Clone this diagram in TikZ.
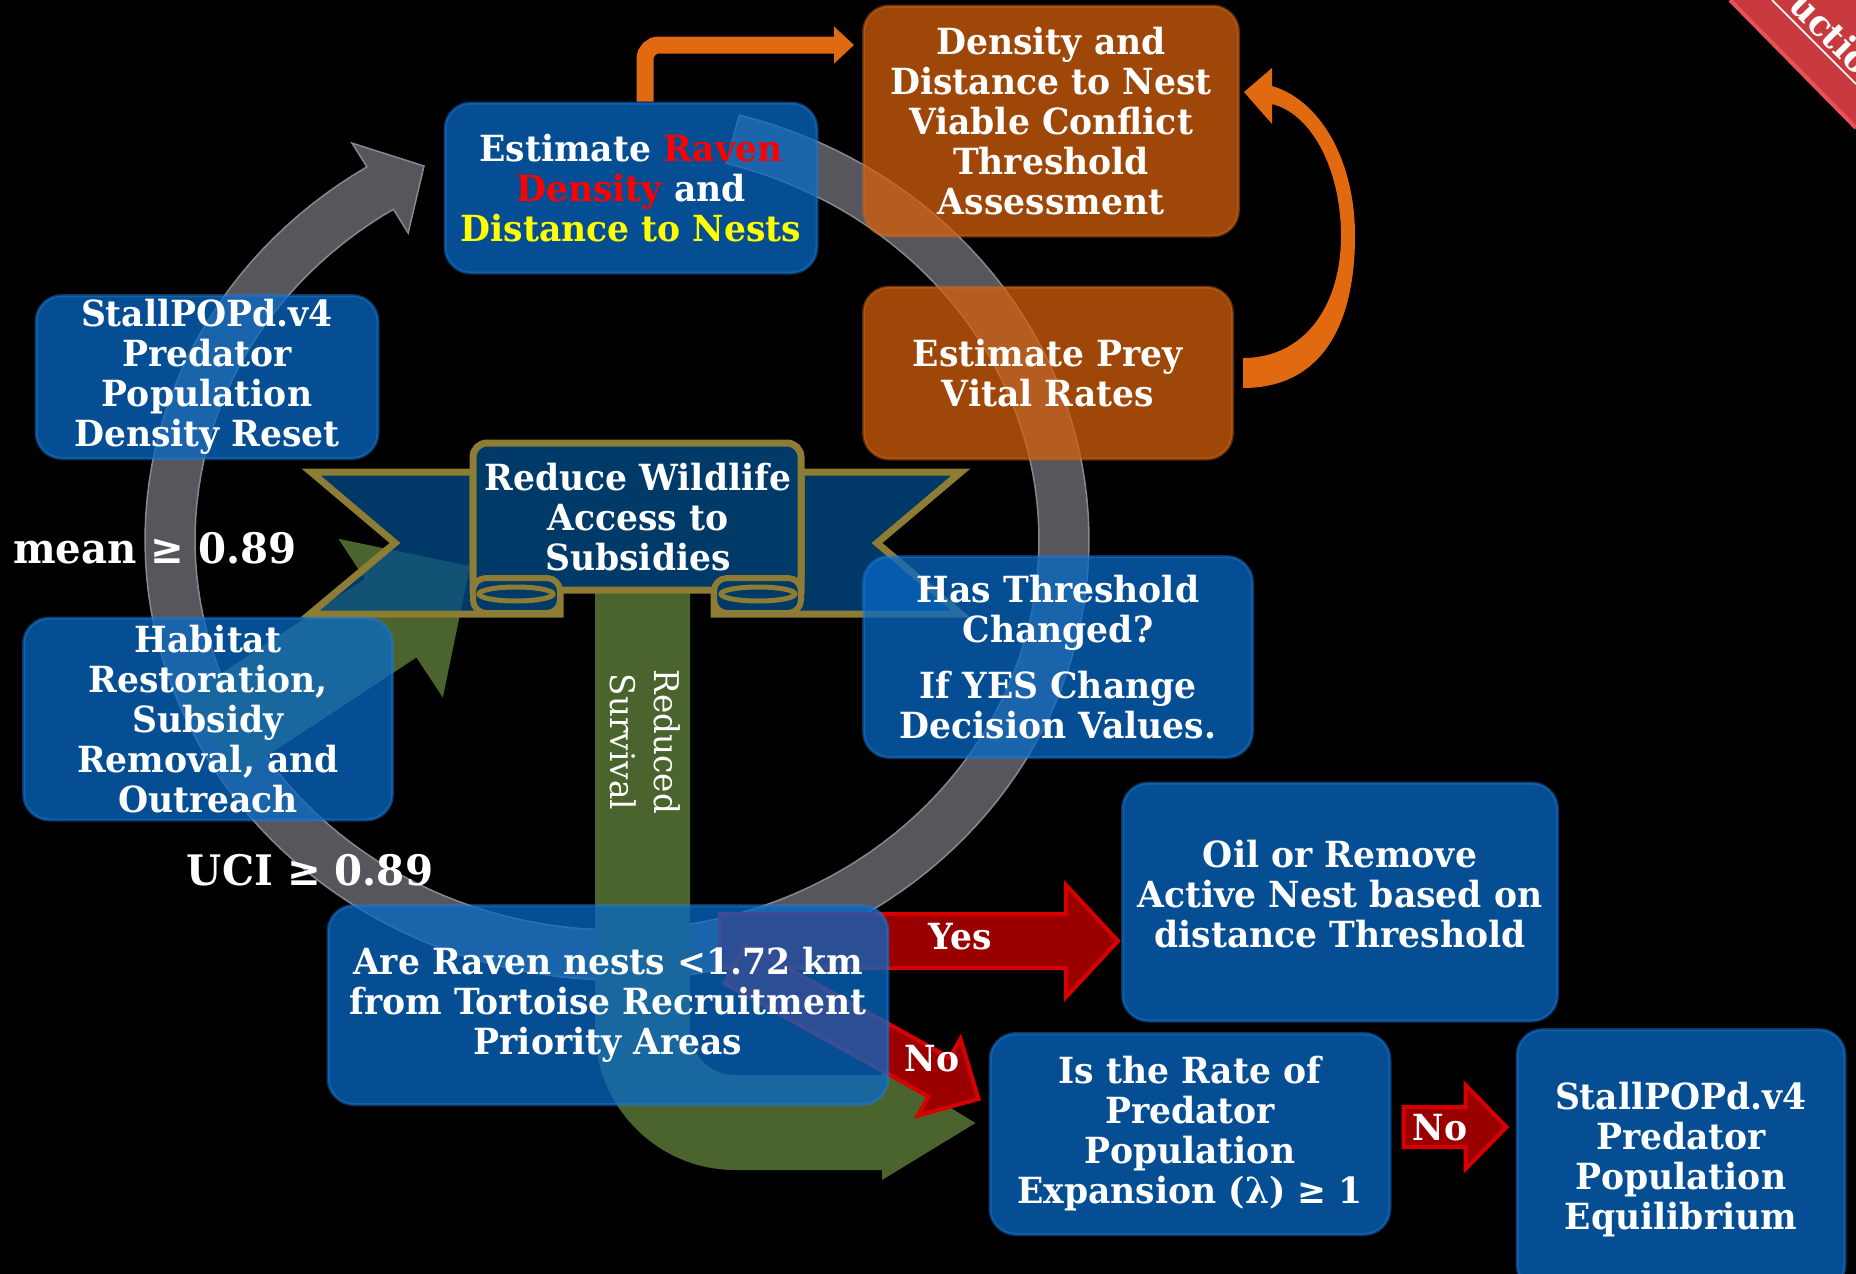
\documentclass[tikz,border=0pt]{standalone}
\usepackage{fontspec}
\setmainfont[FakeStretch=0.96]{DejaVu Serif}
\usetikzlibrary{calc,arrows.meta}
\definecolor{boxblue}{RGB}{7,105,198}
\definecolor{boxedge}{RGB}{30,125,220}
\definecolor{boxorange}{RGB}{213,96,12}
\definecolor{oredge}{RGB}{205,105,30}
\definecolor{arcgray}{RGB}{86,86,92}
\definecolor{arcrim}{RGB}{135,135,142}
\definecolor{greenc}{RGB}{75,100,45}
\definecolor{navy}{RGB}{0,58,105}
\definecolor{navywing}{RGB}{0,77,140}
\definecolor{gold}{RGB}{140,124,52}
\definecolor{arrred}{RGB}{155,0,0}
\definecolor{arredge}{RGB}{215,0,0}
\definecolor{orarrow}{RGB}{225,105,15}
\definecolor{ribbonred}{RGB}{200,58,62}
\definecolor{ribbonrim}{RGB}{235,80,90}
\definecolor{ravenred}{RGB}{255,0,0}
\definecolor{yel}{RGB}{255,255,0}
\pgfdeclarelayer{bgl}
\pgfdeclarelayer{back}
\pgfdeclarelayer{mid}
\pgfsetlayers{bgl,back,mid,main}
\newcommand\myboxfont{\bfseries\fontsize{36}{40}\selectfont}
\newcommand\mybigfont{\bfseries\fontsize{42}{48}\selectfont}
% #1 style, #2 start, #3 tip, #4 shaft half width, #5 head half width, #6 head length
\newcommand\myblockarr[6]{%
  \path[#1] let \p1=($(#3)-(#2)$), \n1={atan2(\y1,\x1)}, \n2={veclen(\x1,\y1)} in
    [shift={(#2)}, rotate=\n1]
    (0,#4) -- ({\n2-#6},#4) -- ({\n2-#6},#5) -- (\n2,0) -- ({\n2-#6},-#5) -- ({\n2-#6},-#4) -- (0,-#4) -- cycle;}
\begin{document}
\begin{tikzpicture}[x=1pt,y=-1pt,
  bluebox/.style={rounded corners=26pt, fill=boxblue, fill opacity=0.75, text opacity=1,
    draw=boxedge, draw opacity=0.45, line width=3pt, text=white, align=center,
    font=\myboxfont, inner sep=0pt},
  orbox/.style={bluebox, fill=boxorange, draw=oredge},
  lbl/.style={text=white, font=\myboxfont, inner sep=0pt, align=center},
  redarr/.style={fill=arrred, draw=arredge, line width=4pt, line join=miter},
  greenarr/.style={fill=greenc},
  bannerpart/.style={fill=navy, draw=gold, line width=7pt, line join=miter}]
\useasboundingbox (0,0) rectangle (1856,1274);
\clip (0,0) rectangle (1856,1274);

\begin{pgfonlayer}{bgl}
  \fill[black] (0,0) rectangle (1856,1274);
  % corner ribbon
  \fill[ribbonred] (1730,0) -- (1856,128) -- (1856,0) -- cycle;
  \draw[ribbonrim, line width=4pt] (1730,0) -- (1856,128);
  \draw[white, line width=1.5pt] (1772,0) -- (1856,84);
  \node[text=white, font=\bfseries\fontsize{36}{40}\selectfont, rotate=-45, anchor=base, inner sep=0pt]
    (rib) at (1822,42) {uctio};
\end{pgfonlayer}

\begin{pgfonlayer}{back}
  % big grey cycle arrow
  \filldraw[fill=arcgray, draw=arcrim, line width=1.5pt]
    plot[domain=-75:238, samples=150] ({617+472*cos(\x)},{540+440*sin(\x)})
    -- ({617+500*cos(238)},{540+468*sin(238)})
    -- (424,166)
    -- ({617+394*cos(238)},{540+362*sin(238)})
    -- plot[domain=238:-75, samples=150] ({617+422*cos(\x)},{540+390*sin(\x)})
    -- cycle;
\end{pgfonlayer}

% ---------- banner ----------
\path[bannerpart, fill=navywing, fill opacity=0.75]
  (473,472) -- (311,472) -- (395,543) -- (310,614) -- (560,614) -- (560,590) -- (473,590) -- cycle;
\path[bannerpart, fill=navywing, fill opacity=0.75]
  (801,472) -- (961,472) -- (877,543) -- (961,614) -- (714,614) -- (714,590) -- (801,590) -- cycle;
\path[bannerpart, rounded corners=14pt] (473,590) -- (473,443) -- (801,443) -- (801,590) -- cycle;
\path[bannerpart, line width=6pt, rounded corners=13pt] (473,578) rectangle (560,613);
\path[bannerpart, line width=6pt, rounded corners=13pt] (714,578) rectangle (801,613);
\draw[gold, line width=5pt] (516,594) ellipse [x radius=37, y radius=7];
\draw[gold, line width=5pt] (758,594) ellipse [x radius=37, y radius=7];
\node[lbl] (ban) at (638,517) {Reduce Wildlife\\Access to\\Subsidies};

% ---------- boxes ----------
\node[bluebox, minimum width=372pt, minimum height=170pt] (est) at (631,188)
  {Estimate \textcolor{ravenred}{Raven}\\\textcolor{ravenred}{Density} and\\\textcolor{yel}{Distance to Nests}};
\node[orbox, minimum width=375pt, minimum height=230pt] (dens) at (1051,121)
  {Density and\\Distance to Nest\\Viable Conflict\\Threshold\\Assessment};
\node[orbox, minimum width=369pt, minimum height=172pt] (prey) at (1048,373)
  {Estimate Prey\\Vital Rates};
\node[bluebox, minimum width=342pt, minimum height=163pt] (reset) at (207,377)
  {StallPOPd.v4\\Predator\\Population\\Density Reset};
\node[bluebox, minimum width=389pt, minimum height=201pt] (thresh) at (1058,657)
  {Has Threshold\\Changed?\\[16pt]If YES Change\\Decision Values.};
\node[bluebox, minimum width=369pt, minimum height=202pt] (hab) at (208,719)
  {Habitat\\Restoration,\\Subsidy\\Removal, and\\Outreach};
\node[bluebox, minimum width=560pt, minimum height=199pt] (raven) at (608,1005)
  {Are Raven nests <1.72 km\\from Tortoise Recruitment\\Priority Areas};
\node[bluebox, minimum width=435pt, minimum height=238pt] (oil) at (1340,902)
  {Oil or Remove\\Active Nest based on\\distance Threshold\\[-24pt]};
\node[bluebox, minimum width=400pt, minimum height=201pt] (rate) at (1190,1134)
  {Is the Rate of\\Predator\\Population\\Expansion (λ) ≥ 1};
\node[bluebox, minimum width=328pt, minimum height=261pt] (eq) at (1681,1160)
  {StallPOPd.v4\\Predator\\Population\\Equilibrium};

% ---------- free labels ----------
\node[text=white, font=\mybigfont, inner sep=0pt] (mean) at (155,548) {mean ≥ 0.89};
\node[text=white, font=\mybigfont, inner sep=0pt] (uci) at (310,870) {UCI ≥ 0.89};
\node[text=white, font=\fontsize{34}{44}\selectfont, rotate=-90, align=center, inner sep=0pt]
  (rs) at (645,742) {Reduced\\Survival};
\node[lbl] (yes) at (960,937) {Yes};
\node[lbl] (no1) at (932,1059) {No};
\node[lbl] (no2) at (1440,1128) {No};

% ---------- connectors ----------
\begin{pgfonlayer}{mid}
  % green arrow from habitat box to banner
  \coordinate (gS) at (210,737);
  \coordinate (gE) at (470,566);
  \myblockarr{greenarr}{gS}{gE}{47}{95}{95}
  % green U-turn arrow from banner to rate box
  \coordinate (uE) at ([shift={(-13,-11)}]rate.west);
  \fill[greenc] (595,588) -- (595,1030) .. controls (595,1107) and (658,1170) .. (735,1170)
    -- (882,1170) -- (882,1180) -- (uE) -- (882,1066) -- (882,1075) -- (735,1075)
    .. controls (710,1075) and (690,1055) .. (690,1030) -- (690,588) -- cycle;
  % red arrows
  \coordinate (yesS) at (720,941);
  \coordinate (yesE) at ([xshift=-3pt]oil.west |- yesS);
  \myblockarr{redarr}{yesS}{yesE}{27}{56}{52}
  \coordinate (noS) at (735,964);
  \coordinate (noE) at ([shift={(-10,-35)}]rate.west);
  \myblockarr{redarr}{noS}{noE}{22}{44}{45}
  \coordinate (no2S) at ([xshift=12pt]rate.east |- 0,1127);
  \coordinate (no2E) at ([xshift=-9pt]eq.west |- no2S);
  \myblockarr{redarr}{no2S}{no2E}{20}{42}{41}
  % orange elbow arrow
  \coordinate (oc) at (645,45);
  \draw[orarrow, line width=17pt, rounded corners=14pt, -{Triangle[length=20pt,width=36pt]}]
    (est.north -| oc) -- (oc) -- ([xshift=-8pt]dens.west |- oc);
  % orange curved arrow from prey to dens
  \coordinate (cbS) at ([xshift=9pt]prey.east);
  \coordinate (cbE) at ([shift={(4,-29)}]dens.east);
  \fill[orarrow] ($(cbS)+(0,15)$) .. controls (1325,388) and (1355,320) .. (1355,236)
    .. controls (1355,160) and (1320,100) .. (1272,86) -- (1272,68) -- (cbE) -- (1272,124)
    -- (1272,104) .. controls (1312,114) and (1341,170) .. (1341,236)
    .. controls (1341,305) and (1305,358) .. ($(cbS)+(0,-15)$) -- cycle;
\end{pgfonlayer}
\end{tikzpicture}
\end{document}
